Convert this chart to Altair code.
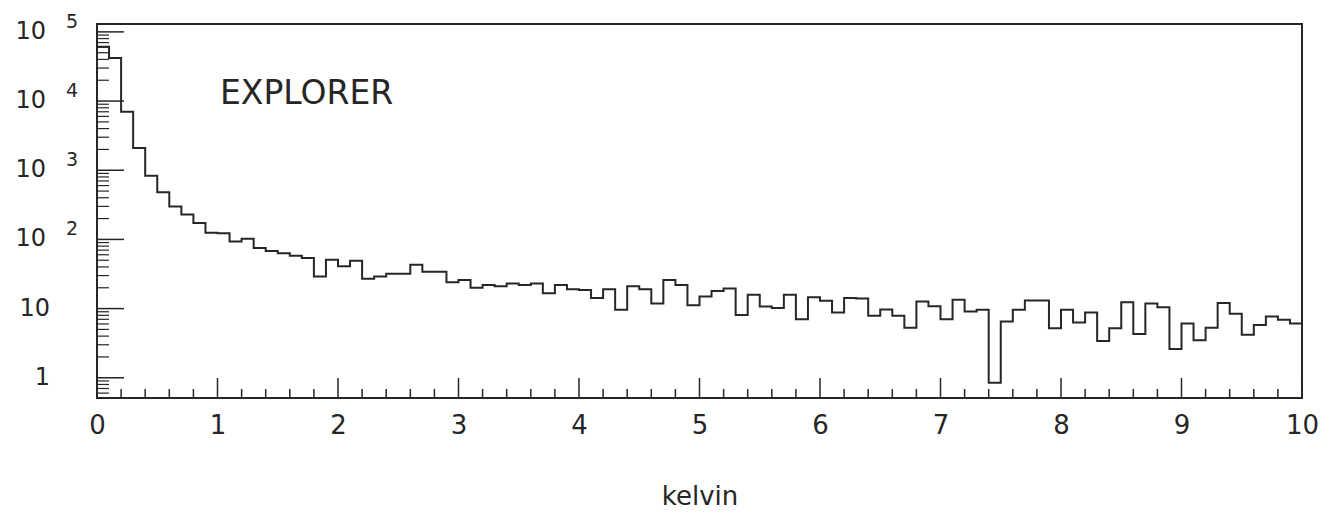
import altair as alt
import pandas as pd

# ---- data ----
bin_width = 0.1
counts = [61000, 42000, 7000, 2100, 830, 480, 300, 230, 172, 125,
          123, 93, 102, 75, 68, 63, 58, 54, 29, 51,
          41, 49, 27, 29, 32, 32, 43, 34, 34, 24,
          26, 20, 22, 21, 23, 22, 23, 16.7, 22, 19,
          18.5, 14.2, 19, 9.6, 21, 19, 11.8, 26, 22, 11.2,
          15, 18, 19.5, 8.1, 15.8, 10.7, 10.2, 15.8, 7, 14.6,
          13, 8.8, 14.2, 14, 7.9, 9.7, 7.9, 5.3, 12.7, 10.8,
          7, 13.4, 9.1, 9.6, 0.85, 6.5, 9.6, 13.1, 13.1, 5.2,
          9.6, 6.3, 8.8, 3.4, 5.2, 12.4, 4.3, 11.8, 10.5, 2.6,
          6.1, 3.5, 5.3, 12, 8.4, 4.2, 5.8, 7.7, 6.9, 6.1]
x_major = [0, 1, 2, 3, 4, 5, 6, 7, 8, 9, 10]
x_minor = [0.2, 0.4, 0.6, 0.8]
y_major = [1, 10, 100, 1000, 10000, 100000]
y_minor_mult = [2, 3, 4, 5, 6, 7, 8, 9]
y_label_base = ["1", "10", "10", "10", "10", "10"]
y_label_exp = ["", "", "2", "3", "4", "5"]
annotation = "EXPLORER"
x_title = "kelvin"

edges = [round(i * bin_width, 2) for i in range(len(counts) + 1)]
hist = pd.DataFrame({"x": edges, "y": counts + [counts[-1]]})

xminor_vals = [m + f for m in x_major[:-1] for f in x_minor]
yminor_vals = [d * k / 10 for d in y_major for k in y_minor_mult]
yminor_vals = [v for v in yminor_vals if 0.52 < v < 1.3e5]

W, H = 1205, 374
xs = alt.Scale(domain=[0, 10], nice=False, zero=False)
ys = alt.Scale(type="log", domain=[0.51, 1.3e5], nice=False)
INK = "#262626"
FONT = "DejaVu Sans"

line = alt.Chart(hist).mark_line(interpolate="step-after", color=INK, strokeWidth=2).encode(
    x=alt.X("x:Q", scale=xs,
            axis=alt.Axis(values=x_major, ticks=False, domain=False, grid=False,
                          labelFontSize=26, labelFont=FONT, labelColor=INK,
                          labelPadding=14, labelFlush=False, format="d",
                          title=x_title, titleFont=FONT, titleFontSize=26,
                          titleFontWeight="normal", titleColor=INK, titlePadding=45)),
    y=alt.Y("y:Q", scale=ys, axis=None),
)

xt_major = alt.Chart(pd.DataFrame({"x": x_major})).mark_rule(color=INK, strokeWidth=1.5).encode(
    x=alt.X("x:Q", scale=xs), y=alt.value(H), y2=alt.value(H - 20))
xt_minor = alt.Chart(pd.DataFrame({"x": xminor_vals})).mark_rule(color=INK, strokeWidth=1.5).encode(
    x=alt.X("x:Q", scale=xs), y=alt.value(H), y2=alt.value(H - 9))
yt_major = alt.Chart(pd.DataFrame({"y": y_major})).mark_rule(color=INK, strokeWidth=1.5).encode(
    y=alt.Y("y:Q", scale=ys, axis=None), x=alt.value(0), x2=alt.value(27))
yt_minor = alt.Chart(pd.DataFrame({"y": yminor_vals})).mark_rule(color=INK, strokeWidth=1.2).encode(
    y=alt.Y("y:Q", scale=ys, axis=None), x=alt.value(0), x2=alt.value(12))

lab = pd.DataFrame({"y": y_major, "base": y_label_base, "exp": y_label_exp})
lab_exp = lab[lab["exp"] != ""]
lab_plain = lab[lab["exp"] == ""]

base_txt = alt.Chart(lab_exp).mark_text(align="right", baseline="middle", fontSize=24,
                                         font=FONT, color=INK).encode(
    y=alt.Y("y:Q", scale=ys, axis=None), x=alt.value(-51), text="base:N")
exp_txt = alt.Chart(lab_exp).mark_text(align="left", baseline="middle", fontSize=19, dy=-10,
                                        font=FONT, color=INK).encode(
    y=alt.Y("y:Q", scale=ys, axis=None), x=alt.value(-31), text="exp:N")
plain_txt = alt.Chart(lab_plain).mark_text(align="right", baseline="middle", fontSize=24,
                                            font=FONT, color=INK).encode(
    y=alt.Y("y:Q", scale=ys, axis=None), x=alt.value(-47), text="base:N")

note = alt.Chart(pd.DataFrame({"t": [annotation]})).mark_text(
    align="left", baseline="middle", fontSize=33, font=FONT,
    color=INK).encode(x=alt.value(123), y=alt.value(70), text="t:N")

chart = alt.layer(line, xt_major, xt_minor, yt_major, yt_minor,
                  base_txt, exp_txt, plain_txt, note).properties(
    width=W, height=H, autosize="none", background="white",
    padding={"left": 97, "top": 24, "right": 31, "bottom": 118},
).configure_view(stroke=INK, strokeWidth=2)

chart.save("out.html", embed_options={"renderer": "svg", "actions": False})
